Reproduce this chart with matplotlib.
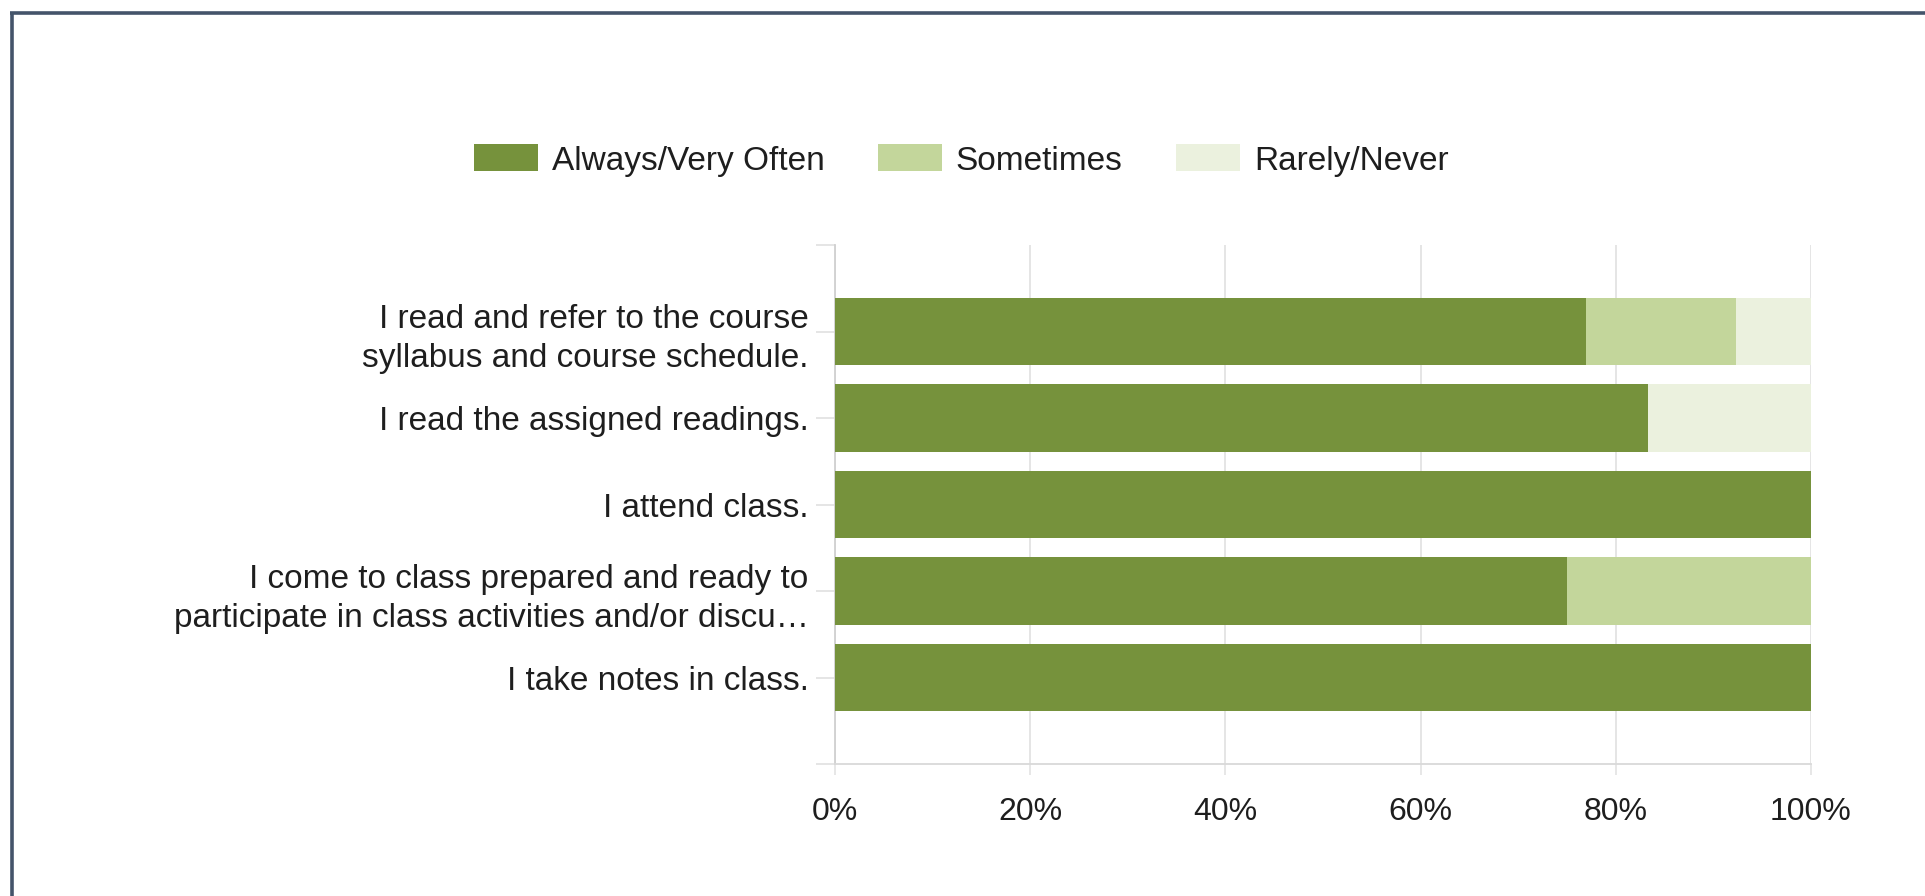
import matplotlib
matplotlib.use("Agg")
import matplotlib.pyplot as plt
from matplotlib.patches import Patch
from matplotlib.lines import Line2D
from matplotlib.ticker import FixedLocator

plt.rcParams['font.family'] = ['Liberation Sans', 'DejaVu Sans']

categories = [
    "I read and refer to the course\nsyllabus and course schedule.",
    "I read the assigned readings.",
    "I attend class.",
    "I come to class prepared and ready to\nparticipate in class activities and/or discu\u2026",
    "I take notes in class.",
]
series_names = ["Always/Very Often", "Sometimes", "Rarely/Never"]
always = [76.9, 83.3, 100, 75, 100]
sometimes = [15.4, 0, 0, 25, 0]
rarely = [7.7, 16.7, 0, 0, 0]
x_ticks = [0, 20, 40, 60, 80, 100]
x_tick_labels = ["0%", "20%", "40%", "60%", "80%", "100%"]

colors = ["#76923C", "#C3D69B", "#EBF1DE"]
text_color = "#1E1E1E"
grid_color = "#E3E3E3"

W, H = 1925, 896
fig = plt.figure(figsize=(W / 100, H / 100), dpi=100)
fig.patch.set_facecolor("white")

ax = fig.add_axes([835 / W, 1 - 764 / H, (1811 - 835) / W, (764 - 245) / H])

ypos = list(range(len(categories)))
lefts = [0] * len(categories)
for name, vals, c in zip(series_names, [always, sometimes, rarely], colors):
    ax.barh(ypos, vals, left=lefts, height=0.78, color=c, edgecolor="none",
            label=name, zorder=3)
    lefts = [l + v for l, v in zip(lefts, vals)]

ax.set_xlim(0, 100)
ax.set_ylim(len(categories), -1)

ax.set_xticks(x_ticks)
ax.set_xticklabels(x_tick_labels, fontsize=23, color=text_color)
ax.set_yticks(ypos)
ax.set_yticklabels(categories, fontsize=24, color=text_color, linespacing=1.34)
ax.yaxis.set_minor_locator(FixedLocator([-1, len(categories)]))

ax.tick_params(axis="y", which="both", length=14, width=1.2, color="#E0E0E0",
               pad=5)
ax.tick_params(axis="x", length=8, width=1.2, color=grid_color, pad=16)

ax.grid(axis="x", color=grid_color, linewidth=1.3, zorder=0)
for s in ["top", "right"]:
    ax.spines[s].set_visible(False)
ax.spines["left"].set_color("#D0D0D0")
ax.spines["left"].set_linewidth(1.3)
ax.spines["bottom"].set_color("#D9D9D9")
ax.spines["bottom"].set_linewidth(1.3)

handles = [Patch(facecolor=c, edgecolor="none") for c in colors]
fig.legend(handles, series_names, loc="center",
           bbox_to_anchor=(961 / W, 1 - 160.5 / H), ncol=3, frameon=False,
           fontsize=24, handlelength=1.92, handleheight=0.87,
           handletextpad=0.42, columnspacing=1.6, labelcolor=text_color)

border_color = "#44546A"
fig.add_artist(Line2D([10 / W, 1], [1 - 13.5 / H, 1 - 13.5 / H],
                      transform=fig.transFigure, color=border_color,
                      linewidth=2.6, solid_capstyle="butt"))
fig.add_artist(Line2D([11.5 / W, 11.5 / W], [0, 1 - 12 / H],
                      transform=fig.transFigure, color=border_color,
                      linewidth=2.6, solid_capstyle="butt"))

fig.savefig("out.png", dpi=100, facecolor="white")
